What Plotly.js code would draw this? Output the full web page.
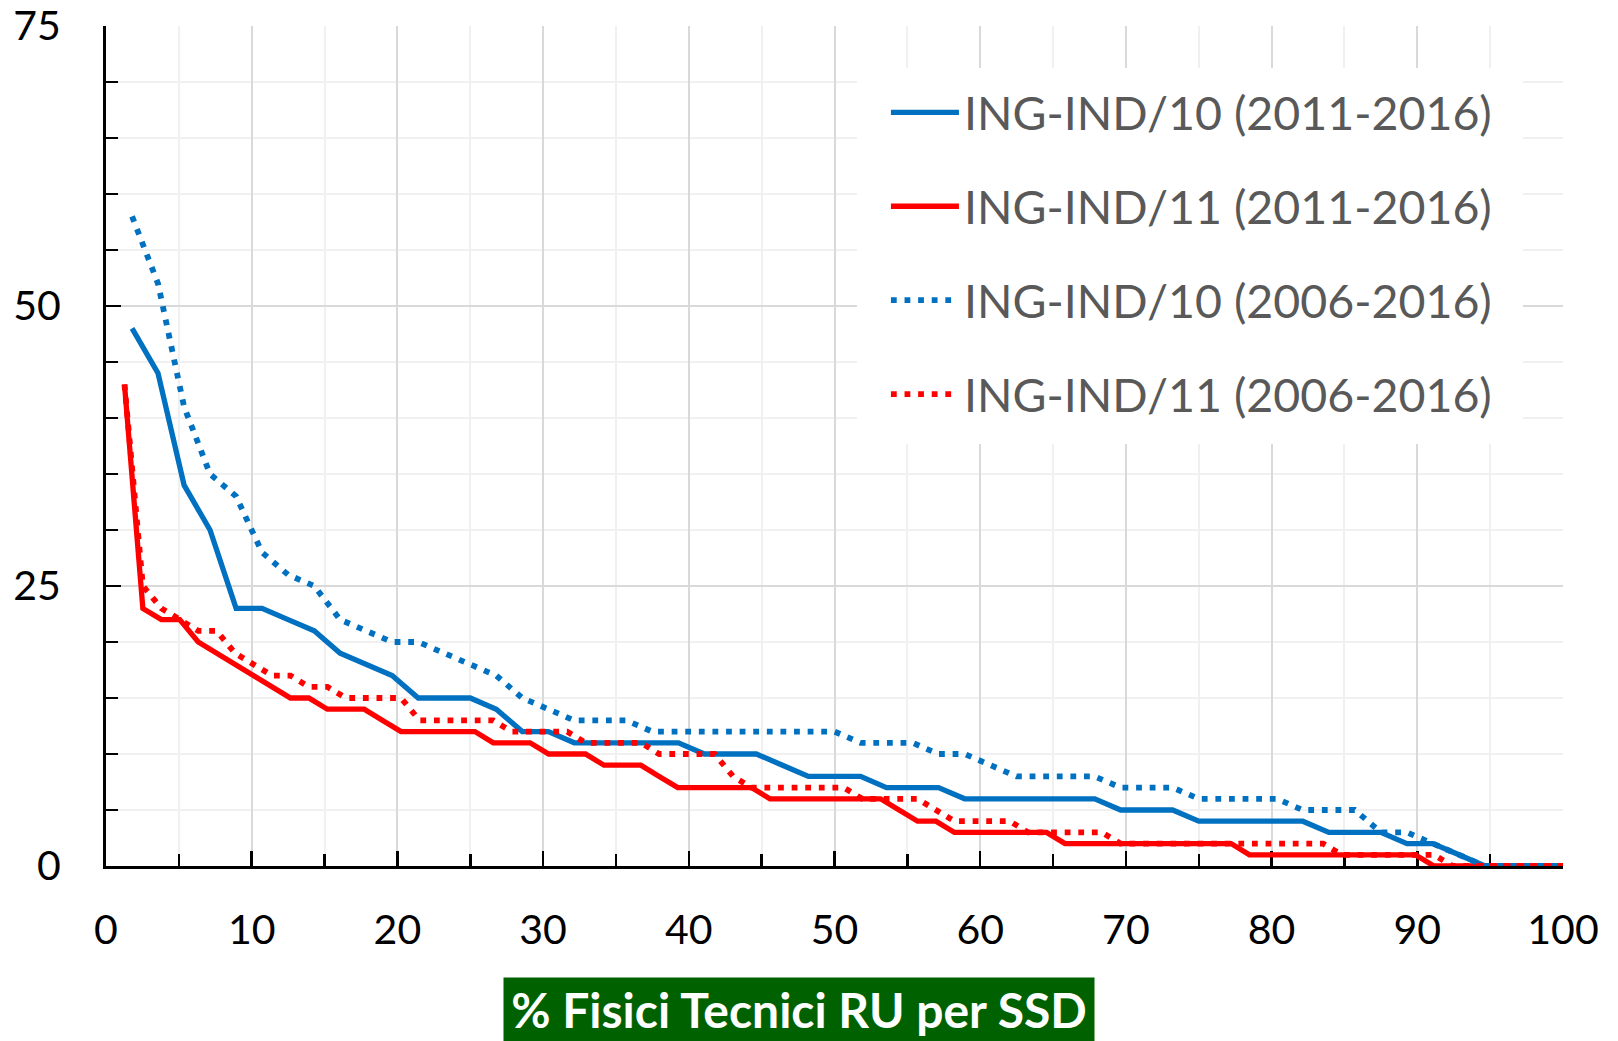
<!DOCTYPE html>
<html>
<head>
<meta charset="utf-8">
<script src="https://cdn.plot.ly/plotly-3.0.1.min.js"></script>
<style>
  html, body { margin: 0; padding: 0; background: #ffffff; }
  #chart { width: 1618px; height: 1041px; }
</style>
</head>
<body>
<div id="chart"></div>
<script>
// ---- Data ----
// x positions (% rank) for ING-IND/10 series
const xIND10 = [1.79, 3.57, 5.36, 7.14, 8.93, 10.71, 12.5, 14.29, 16.07, 17.86,
  19.64, 21.43, 23.21, 25, 26.79, 28.57, 30.36, 32.14, 33.93, 35.71,
  37.5, 39.29, 41.07, 42.86, 44.64, 46.43, 48.21, 50, 51.79, 53.57,
  55.36, 57.14, 58.93, 60.71, 62.5, 64.29, 66.07, 67.86, 69.64, 71.43,
  73.21, 75, 76.79, 78.57, 80.36, 82.14, 83.93, 85.71, 87.5, 89.29,
  91.07, 92.86, 94.64, 96.43, 98.21, 100];

// x positions (% rank) for ING-IND/11 series
const xIND11 = [1.27, 2.53, 3.8, 5.06, 6.33, 7.59, 8.86, 10.13, 11.39, 12.66,
  13.92, 15.19, 16.46, 17.72, 18.99, 20.25, 21.52, 22.78, 24.05, 25.32,
  26.58, 27.85, 29.11, 30.38, 31.65, 32.91, 34.18, 35.44, 36.71, 37.97,
  39.24, 40.51, 41.77, 43.04, 44.3, 45.57, 46.84, 48.1, 49.37, 50.63,
  51.9, 53.16, 54.43, 55.7, 56.96, 58.23, 59.49, 60.76, 62.03, 63.29,
  64.56, 65.82, 67.09, 68.35, 69.62, 70.89, 72.15, 73.42, 74.68, 75.95,
  77.22, 78.48, 79.75, 81.01, 82.28, 83.54, 84.81, 86.08, 87.34, 88.61,
  89.87, 91.14, 92.41, 93.67, 94.94, 96.2, 97.47, 98.73, 100];

const yIND10_2011 = [48, 44, 34, 30, 23, 23, 22, 21, 19, 18,
  17, 15, 15, 15, 14, 12, 12, 11, 11, 11,
  11, 11, 10, 10, 10, 9, 8, 8, 8, 7,
  7, 7, 6, 6, 6, 6, 6, 6, 5, 5,
  5, 4, 4, 4, 4, 4, 3, 3, 3, 2,
  2, 1, 0, 0, 0, 0];

const yIND11_2011 = [43, 23, 22, 22, 20, 19, 18, 17, 16, 15,
  15, 14, 14, 14, 13, 12, 12, 12, 12, 12,
  11, 11, 11, 10, 10, 10, 9, 9, 9, 8,
  7, 7, 7, 7, 7, 6, 6, 6, 6, 6,
  6, 6, 5, 4, 4, 3, 3, 3, 3, 3,
  3, 2, 2, 2, 2, 2, 2, 2, 2, 2,
  2, 1, 1, 1, 1, 1, 1, 1, 1, 1,
  1, 0, 0, 0, 0, 0, 0, 0, 0];

const yIND10_2006 = [58, 52, 41, 35, 33, 28, 26, 25, 22, 21,
  20, 20, 19, 18, 17, 15, 14, 13, 13, 13,
  12, 12, 12, 12, 12, 12, 12, 12, 11, 11,
  11, 10, 10, 9, 8, 8, 8, 8, 7, 7,
  7, 6, 6, 6, 6, 5, 5, 5, 3, 3,
  2, 1, 0, 0, 0, 0];

const yIND11_2006 = [43, 25, 23, 22, 21, 21, 19, 18, 17, 17,
  16, 16, 15, 15, 15, 15, 13, 13, 13, 13,
  13, 12, 12, 12, 12, 11, 11, 11, 11, 10,
  10, 10, 10, 8, 7, 7, 7, 7, 7, 7,
  6, 6, 6, 6, 5, 4, 4, 4, 4, 3,
  3, 3, 3, 3, 2, 2, 2, 2, 2, 2,
  2, 2, 2, 2, 2, 2, 1, 1, 1, 1,
  1, 1, 0, 0, 0, 0, 0, 0, 0];

const seriesNames = ["ING-IND/10 (2011-2016)", "ING-IND/11 (2011-2016)",
                     "ING-IND/10 (2006-2016)", "ING-IND/11 (2006-2016)"];
const xTickVals = [0, 10, 20, 30, 40, 50, 60, 70, 80, 90, 100];
const yTickVals = [0, 25, 50, 75];
const xTitle = "% Fisici Tecnici RU per SSD";

// ---- Styles ----
const BLUE = "#0070C0", RED = "#FF0000";
const FONT = "Lato, 'Open Sans', sans-serif";
const dotDash = "5.8px,7.8px";

const traces = [
  {x: xIND10, y: yIND10_2011, name: seriesNames[0], legendgroup: "g1",
   line: {color: BLUE, width: 5.3}},
  {x: xIND11, y: yIND11_2011, name: seriesNames[1], legendgroup: "g2",
   line: {color: RED, width: 5.3}},
  {x: xIND10, y: yIND10_2006, name: seriesNames[2], legendgroup: "g3",
   line: {color: BLUE, width: 5.8, dash: dotDash}},
  {x: xIND11, y: yIND11_2006, name: seriesNames[3], legendgroup: "g4",
   line: {color: RED, width: 5.8, dash: dotDash}}
].map(t => Object.assign({type: "scatter", mode: "lines", hoverinfo: "skip"}, t));

const axisCommon = {
  ticks: "inside", ticklen: 15, tickwidth: 2.5, tickcolor: "#000",
  showline: true, linecolor: "#000", linewidth: 3,
  showgrid: true, gridcolor: "#d9d9d9", gridwidth: 2,
  zeroline: false, automargin: false, fixedrange: true,
  layer: "below traces",
  tickfont: {family: FONT, size: 41, color: "#000"}
};

const layout = {
  width: 1618, height: 1041,
  margin: {l: 106, r: 55, t: 26, b: 175, pad: 0},
  paper_bgcolor: "#ffffff", plot_bgcolor: "#ffffff",
  font: {family: FONT, color: "#000"},
  showlegend: true,
  xaxis: Object.assign({}, axisCommon, {
    range: [0, 100], tickmode: "array", tickvals: xTickVals,
    ticktext: xTickVals.map(String), ticklabelstandoff: 26,
    minor: {tickmode: "linear", tick0: 0, dtick: 5, ticks: "inside", ticklen: 12,
            tickwidth: 2.5, tickcolor: "#000", showgrid: true,
            gridcolor: "#f0f0f0", gridwidth: 2}
  }),
  yaxis: Object.assign({}, axisCommon, {
    range: [0, 75], tickmode: "array", tickvals: yTickVals,
    ticktext: yTickVals.map(String), ticklabelstandoff: 34,
    minor: {tickmode: "linear", tick0: 0, dtick: 5, ticks: "inside", ticklen: 12,
            tickwidth: 2.5, tickcolor: "#000", showgrid: true,
            gridcolor: "#f0f0f0", gridwidth: 2}
  }),
  legend: {
    x: 0.5353, xanchor: "left", y: 0.941, yanchor: "top",
    bgcolor: "rgba(255,255,255,0)", borderwidth: 0,
    font: {family: FONT, size: 46.5, color: "#595959"},
    itemwidth: 68, tracegroupgap: 30.5, traceorder: "grouped"
  },
  shapes: [{
    type: "rect", xref: "paper", yref: "paper",
    x0: 0.5154, x1: 0.9725, y0: 0.5024, y1: 0.95,
    fillcolor: "#ffffff", line: {width: 0}, layer: "above"
  }],
  annotations: [{
    text: "<b>" + xTitle + "</b>", xref: "paper", yref: "paper",
    x: 0.4756, y: -0.1708, xanchor: "center", yanchor: "middle",
    showarrow: false, bgcolor: "#006100", borderpad: 0,
    width: 590, height: 63, align: "center", valign: "middle",
    font: {family: FONT, size: 48, color: "#ffffff"}
  }]
};

Plotly.newPlot("chart", traces, layout, {staticPlot: true, displayModeBar: false});
</script>
</body>
</html>
